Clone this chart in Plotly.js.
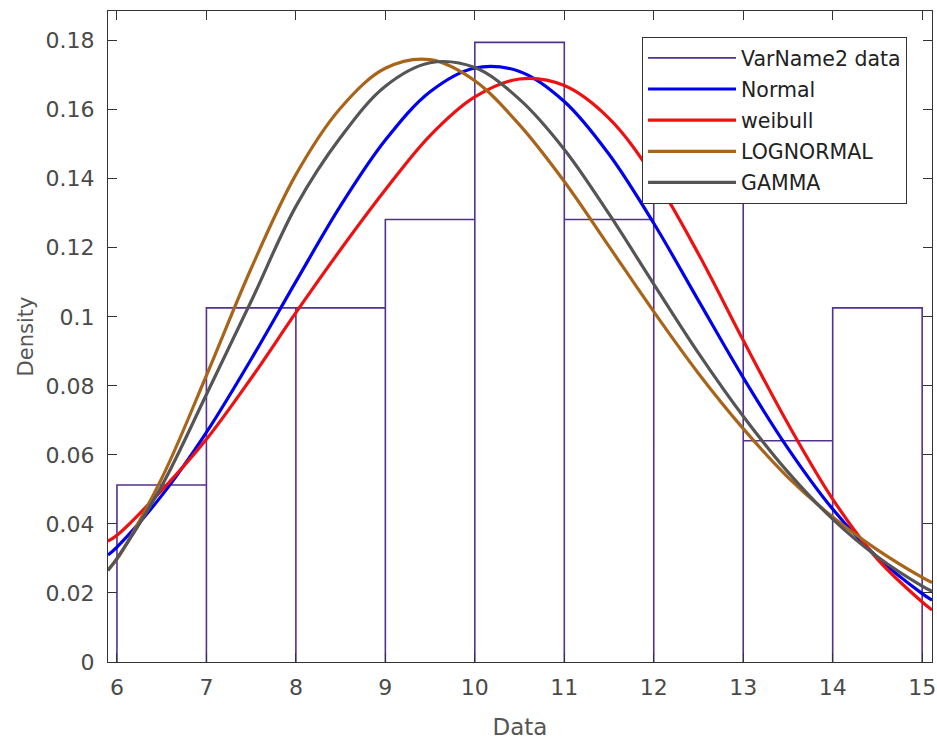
<!DOCTYPE html>
<html>
<head>
<meta charset="utf-8">
<script src="https://cdn.plot.ly/plotly-3.0.1.min.js"></script>
<style>html,body{margin:0;padding:0;background:#fff;}#chart{width:937px;height:740px;}</style>
</head>
<body>
<div id="chart"></div>
<script>
// Histogram data (density per bin)
const binEdges = [6, 7, 8, 9, 10, 11, 12, 13, 14, 15];
const binDensity = [0.0513, 0.1026, 0.1026, 0.1282, 0.1795, 0.1282, 0.1410, 0.0641, 0.1026];

// Fitted curves
const xFit = [5.9, 6, 6.5, 7, 7.5, 8, 8.5, 9, 9.5, 10, 10.5, 11, 11.5, 12, 12.5, 13, 13.5, 14, 14.5, 15, 15.11];
const normalY = [0.0310, 0.0333, 0.0482, 0.0665, 0.0877, 0.1102, 0.1322, 0.1512, 0.1652, 0.1721, 0.1711, 0.1624, 0.1471, 0.1271, 0.1047, 0.0824, 0.0619, 0.0443, 0.0303, 0.0198, 0.0179];
const weibullY = [0.0350, 0.0367, 0.0497, 0.0645, 0.0822, 0.1012, 0.1195, 0.1368, 0.1525, 0.1637, 0.1689, 0.1670, 0.1575, 0.1406, 0.1182, 0.0932, 0.0690, 0.0472, 0.0298, 0.0174, 0.0151];
const lognormalY = [0.0268, 0.0298, 0.0532, 0.0830, 0.1140, 0.1412, 0.1605, 0.1720, 0.1745, 0.1684, 0.1556, 0.1392, 0.1204, 0.1015, 0.0836, 0.0676, 0.0535, 0.0420, 0.0325, 0.0245, 0.0230];
const gammaY = [0.0265, 0.0300, 0.0510, 0.0775, 0.1045, 0.1320, 0.1520, 0.1668, 0.1736, 0.1722, 0.1630, 0.1485, 0.1298, 0.1095, 0.0895, 0.0712, 0.0550, 0.0414, 0.0305, 0.0220, 0.0205];

const seriesNames = ['VarName2 data', 'Normal', 'weibull', 'LOGNORMAL', 'GAMMA'];
const seriesColors = ['#52318f', '#0000ee', '#ee1111', '#a8651a', '#555555'];

// Build bar outlines as one stair path through the data scale
const hx = [], hy = [];
for (let i = 0; i < binDensity.length; i++) {
  hx.push(binEdges[i], binEdges[i], binEdges[i + 1], binEdges[i + 1]);
  hy.push(0, binDensity[i], binDensity[i], 0);
}

const fitY = [normalY, weibullY, lognormalY, gammaY];
const traces = [{
  x: hx, y: hy, type: 'scatter', mode: 'lines', name: seriesNames[0],
  line: {color: seriesColors[0], width: 1.6}, legendgroup: 'g0', hoverinfo: 'skip'
}];
fitY.forEach((ys, i) => {
  traces.push({
    x: xFit, y: ys, type: 'scatter', mode: 'lines', name: seriesNames[i + 1],
    line: {color: seriesColors[i + 1], width: 3.2, shape: 'spline', smoothing: 1},
    legendgroup: 'g' + (i + 1)
  });
});

const tickFont = {family: 'DejaVu Sans', size: 22, color: '#4a4a4a'};
const layout = {
  width: 937, height: 740,
  margin: {l: 108, r: 5, t: 11, b: 78},
  paper_bgcolor: '#ffffff', plot_bgcolor: '#ffffff',
  showlegend: true,
  xaxis: {
    range: [5.9, 15.11], tickmode: 'array', tickvals: binEdges, ticktext: binEdges.map(String),
    showgrid: false, zeroline: false, showline: true, linecolor: '#333333', linewidth: 1,
    mirror: 'ticks', ticks: 'inside', ticklen: 9, tickcolor: '#333333',
    tickfont: tickFont, ticklabelstandoff: 6,
    title: {text: 'Data', font: {family: 'DejaVu Sans', size: 23, color: '#555555'}, standoff: 20}
  },
  yaxis: {
    range: [0, 0.1886], tickmode: 'array',
    tickvals: [0, 0.02, 0.04, 0.06, 0.08, 0.1, 0.12, 0.14, 0.16, 0.18],
    ticktext: ['0', '0.02', '0.04', '0.06', '0.08', '0.1', '0.12', '0.14', '0.16', '0.18'],
    showgrid: false, zeroline: false, showline: true, linecolor: '#333333', linewidth: 1,
    mirror: 'ticks', ticks: 'inside', ticklen: 9, tickcolor: '#333333',
    tickfont: tickFont, ticklabelstandoff: 8,
    title: {text: 'Density', font: {family: 'DejaVu Sans', size: 21, color: '#555555'}, standoff: 6}
  },
  legend: {
    x: 0.9697, xanchor: 'right', y: 0.960, yanchor: 'top',
    bgcolor: '#ffffff', bordercolor: '#333333', borderwidth: 1,
    font: {family: 'DejaVu Sans', size: 20.5, color: '#222222'},
    traceorder: 'grouped', tracegroupgap: 1.5, itemwidth: 88
  }
};

Plotly.newPlot('chart', traces, layout, {displayModeBar: false, staticPlot: true});
</script>
</body>
</html>
